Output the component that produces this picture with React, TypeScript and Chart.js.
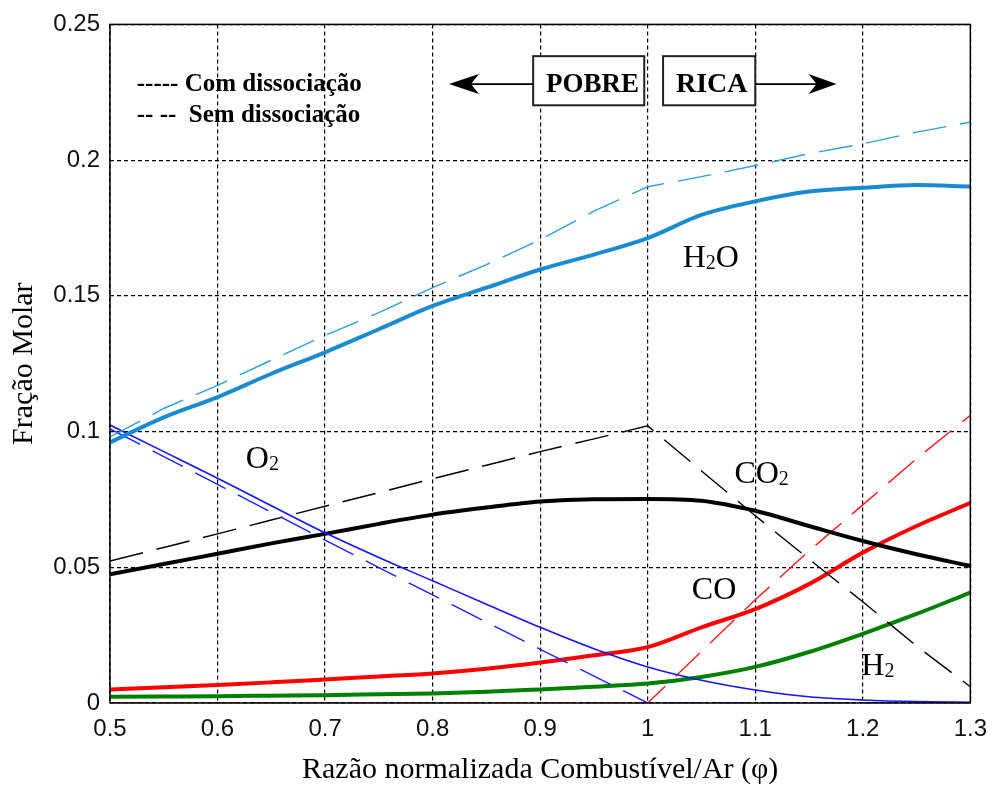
import React, { useEffect, useRef } from "react";
import { Chart, registerables } from "chart.js";

Chart.register(...registerables);

// ---------- data ----------
const phi = [0.5, 0.55, 0.6, 0.65, 0.7, 0.75, 0.8, 0.85, 0.9, 0.95, 1.0, 1.05, 1.1, 1.15, 1.2, 1.25, 1.3];

const h2oCom = [0.096, 0.1052, 0.1127, 0.1213, 0.1292, 0.1377, 0.1463, 0.153, 0.1597, 0.1652, 0.1713, 0.1798, 0.1848, 0.1884, 0.1898, 0.1908, 0.1903];
const h2oSem = [0.098, 0.1085, 0.117, 0.1263, 0.1354, 0.1438, 0.153, 0.1615, 0.1707, 0.1812, 0.1902, 0.1939, 0.198, 0.2024, 0.206, 0.2103, 0.214];
const o2Com = [0.1024, 0.0926, 0.0828, 0.0727, 0.0627, 0.0536, 0.045, 0.0364, 0.0279, 0.02, 0.0133, 0.0084, 0.0048, 0.0023, 0.0011, 0.0005, 0.0003];
const o2Sem = [0.101, 0.0908, 0.0805, 0.0703, 0.06, 0.0499, 0.0398, 0.0298, 0.0198, 0.0099, 0, 0, 0, 0, 0, 0, 0];
const co2Com = [0.0474, 0.0512, 0.055, 0.0588, 0.0623, 0.066, 0.0694, 0.072, 0.0742, 0.0751, 0.0752, 0.0745, 0.0708, 0.0652, 0.0597, 0.0548, 0.0505];
const co2Sem = [0.0523, 0.0573, 0.0623, 0.0674, 0.0725, 0.0775, 0.0826, 0.0876, 0.0926, 0.0973, 0.1021, 0.0855, 0.069, 0.053, 0.0373, 0.021, 0.006];
const coCom = [0.005, 0.0058, 0.0066, 0.0076, 0.0087, 0.0098, 0.0109, 0.0126, 0.0149, 0.0176, 0.0206, 0.0279, 0.0346, 0.0438, 0.0554, 0.0652, 0.0737];
const coSem = [0, 0, 0, 0, 0, 0, 0, 0, 0, 0, 0, 0.019, 0.038, 0.056, 0.073, 0.09, 0.106];
const h2Com = [0.0023, 0.0024, 0.0025, 0.0027, 0.0029, 0.0032, 0.0035, 0.0041, 0.005, 0.006, 0.0072, 0.0096, 0.0133, 0.0188, 0.0255, 0.0328, 0.0407];

const xTickValues = [0.5, 0.6, 0.7, 0.8, 0.9, 1.0, 1.1, 1.2, 1.3];
const xTickLabels = ["0.5", "0.6", "0.7", "0.8", "0.9", "1", "1.1", "1.2", "1.3"];
const yTickValues = [0, 0.05, 0.1, 0.15, 0.2, 0.25];
const yTickLabels = ["0", "0.05", "0.1", "0.15", "0.2", "0.25"];

const xTitle = "Razão normalizada Combustível/Ar (φ)";
const yTitle = "Fração Molar";
const legendLines = ["----- Com dissociação", "-- --  Sem dissociação"];
const regionLabels = ["POBRE", "RICA"];

// species labels: [text parts], anchor in data coords (left, baseline)
const speciesLabels = [
  { parts: [["H", false], ["2", true], ["O", false]], x: 1.0325, y: 0.1605 },
  { parts: [["O", false], ["2", true]], x: 0.6263, y: 0.0864 },
  { parts: [["C", false], ["O", false], ["2", true]], x: 1.0806, y: 0.0809 },
  { parts: [["C", false], ["O", false]], x: 1.041, y: 0.0384 },
  { parts: [["H", false], ["2", true]], x: 1.1986, y: 0.0102 },
];

const SERIF = "'Liberation Serif', 'Times New Roman', serif";
const SANS = "'Liberation Sans', Arial, sans-serif";

const pts = (ys: number[]) => phi.map((x, i) => ({ x, y: ys[i] }));

const annotationPlugin = {
  id: "annotations",
  afterDraw(chart: any) {
    const { ctx, chartArea } = chart;
    const xs = chart.scales.x;
    const ys = chart.scales.y;
    const X = (v: number) => xs.getPixelForValue(v);
    const Y = (v: number) => ys.getPixelForValue(v);
    ctx.save();

    // frame
    ctx.strokeStyle = "#000";
    ctx.lineWidth = 1.5;
    ctx.setLineDash([]);
    ctx.strokeRect(chartArea.left, chartArea.top, chartArea.right - chartArea.left, chartArea.bottom - chartArea.top);

    // legend text
    ctx.fillStyle = "#000";
    ctx.textBaseline = "alphabetic";
    ctx.textAlign = "left";
    ctx.font = `bold 25px ${SERIF}`;
    ctx.fillText(legendLines[0], X(0.5249), Y(0.2255));
    ctx.fillText(legendLines[1], X(0.5249), Y(0.2141));

    // region boxes
    const boxTop = Y(0.2383);
    const boxBot = Y(0.2202);
    ctx.lineWidth = 2;
    ctx.fillStyle = "#fff";
    const pobreL = X(0.8935), pobreR = X(0.9968);
    const ricaL = X(1.0143), ricaR = X(1.1);
    ctx.fillRect(pobreL, boxTop, pobreR - pobreL, boxBot - boxTop);
    ctx.fillRect(ricaL, boxTop, ricaR - ricaL, boxBot - boxTop);
    ctx.strokeStyle = "#222";
    ctx.strokeRect(pobreL, boxTop, pobreR - pobreL, boxBot - boxTop);
    ctx.strokeRect(ricaL, boxTop, ricaR - ricaL, boxBot - boxTop);
    ctx.fillStyle = "#000";
    ctx.font = `bold 27px ${SERIF}`;
    ctx.fillText(regionLabels[0], X(0.9055), Y(0.2252));
    ctx.font = `bold 28px ${SERIF}`;
    ctx.fillText(regionLabels[1], X(1.0263), Y(0.2252));

    // arrows
    const ay = Y(0.228);
    const lt = X(0.8152), rt = X(1.1756);
    ctx.strokeStyle = "#000";
    ctx.lineWidth = 1.6;
    ctx.beginPath();
    ctx.moveTo(pobreL, ay);
    ctx.lineTo(lt + 10, ay);
    ctx.moveTo(ricaR, ay);
    ctx.lineTo(rt - 10, ay);
    ctx.stroke();
    ctx.fillStyle = "#000";
    ctx.beginPath();
    ctx.moveTo(lt, ay);
    ctx.lineTo(lt + 30, ay - 10);
    ctx.lineTo(lt + 22, ay);
    ctx.lineTo(lt + 30, ay + 10);
    ctx.closePath();
    ctx.fill();
    ctx.beginPath();
    ctx.moveTo(rt, ay);
    ctx.lineTo(rt - 28, ay - 10);
    ctx.lineTo(rt - 20, ay);
    ctx.lineTo(rt - 28, ay + 10);
    ctx.closePath();
    ctx.fill();

    // species labels
    ctx.fillStyle = "#000";
    for (const lab of speciesLabels) {
      let cx = X(lab.x);
      const by = Y(lab.y);
      for (const [t, sub] of lab.parts as [string, boolean][]) {
        ctx.font = sub ? `20px ${SERIF}` : `32px ${SERIF}`;
        ctx.fillText(t, cx, sub ? by + 2 : by);
        cx += ctx.measureText(t).width;
      }
    }
    ctx.restore();
  },
};

export default function App() {
  const ref = useRef<HTMLCanvasElement | null>(null);

  useEffect(() => {
    document.body.style.margin = "0";
    const canvas = ref.current;
    if (!canvas) return;

    const solid = (label: string, data: number[], color: string, width: number) => ({
      label,
      data: pts(data),
      borderColor: color,
      backgroundColor: color,
      borderWidth: width,
      pointRadius: 0,
      fill: false,
      cubicInterpolationMode: "monotone" as const,
    });
    const dashed = (label: string, data: number[], color: string) => ({
      label,
      data: pts(data),
      borderColor: color,
      backgroundColor: color,
      borderWidth: 1.4,
      borderDash: [34, 14],
      pointRadius: 0,
      fill: false,
      tension: 0,
    });

    const chart = new Chart(canvas, {
      type: "line",
      data: {
        datasets: [
          dashed("H2O sem", h2oSem, "#2a9ee0"),
          solid("H2O com", h2oCom, "#1a8bd0", 4),
          dashed("O2 sem", o2Sem, "#1f1fff"),
          solid("O2 com", o2Com, "#1414ff", 1.6),
          dashed("CO2 sem", co2Sem, "#000000"),
          solid("CO2 com", co2Com, "#000000", 4),
          dashed("CO sem", coSem, "#ff1a1a"),
          solid("CO com", coCom, "#ff0000", 4),
          solid("H2 com", h2Com, "#008000", 4),
        ],
      },
      options: {
        animation: false,
        responsive: false,
        maintainAspectRatio: false,
        events: [],
        layout: { padding: { top: 20, right: 21, left: 0, bottom: 0 } },
        plugins: { legend: { display: false }, tooltip: { enabled: false } },
        scales: {
          x: {
            type: "linear",
            min: 0.5,
            max: 1.3,
            afterBuildTicks: (scale: any) => {
              scale.ticks = xTickValues.map((v) => ({ value: v }));
            },
            afterFit: (scale: any) => {
              scale.height = 86;
            },
            ticks: {
              autoSkip: false,
              maxRotation: 0,
              padding: 12,
              color: "#111",
              font: { family: SANS, size: 24 },
              callback: (v: any) => {
                const i = xTickValues.findIndex((t) => Math.abs(t - Number(v)) < 1e-6);
                return i >= 0 ? xTickLabels[i] : "";
              },
            },
            grid: { color: "#000", lineWidth: 1.2, drawTicks: false },
            border: { display: false, dash: [4, 3] },
            title: {
              display: true,
              text: xTitle,
              color: "#000",
              font: { family: SERIF, size: 30, lineHeight: 1 },
              padding: { top: 0, bottom: 4 },
            },
          },
          y: {
            type: "linear",
            min: 0,
            max: 0.25,
            afterBuildTicks: (scale: any) => {
              scale.ticks = yTickValues.map((v) => ({ value: v }));
            },
            afterFit: (scale: any) => {
              scale.width = 110;
            },
            ticks: {
              autoSkip: false,
              padding: 10,
              color: "#111",
              font: { family: SANS, size: 24 },
              callback: (v: any) => {
                const i = yTickValues.findIndex((t) => Math.abs(t - Number(v)) < 1e-6);
                return i >= 0 ? yTickLabels[i] : "";
              },
            },
            grid: { color: "#000", lineWidth: 1.2, drawTicks: false },
            border: { display: false, dash: [4, 3] },
            title: {
              display: true,
              text: yTitle,
              color: "#000",
              font: { family: SERIF, size: 30, lineHeight: 1 },
              padding: { top: 9, bottom: 0 },
            },
          },
        },
      },
      plugins: [annotationPlugin],
    });

    return () => chart.destroy();
  }, []);

  return (
    <div style={{ width: 999, height: 789, position: "relative", background: "#fff" }}>
      <canvas ref={ref} width={999} height={789} style={{ display: "block" }} />
    </div>
  );
}
